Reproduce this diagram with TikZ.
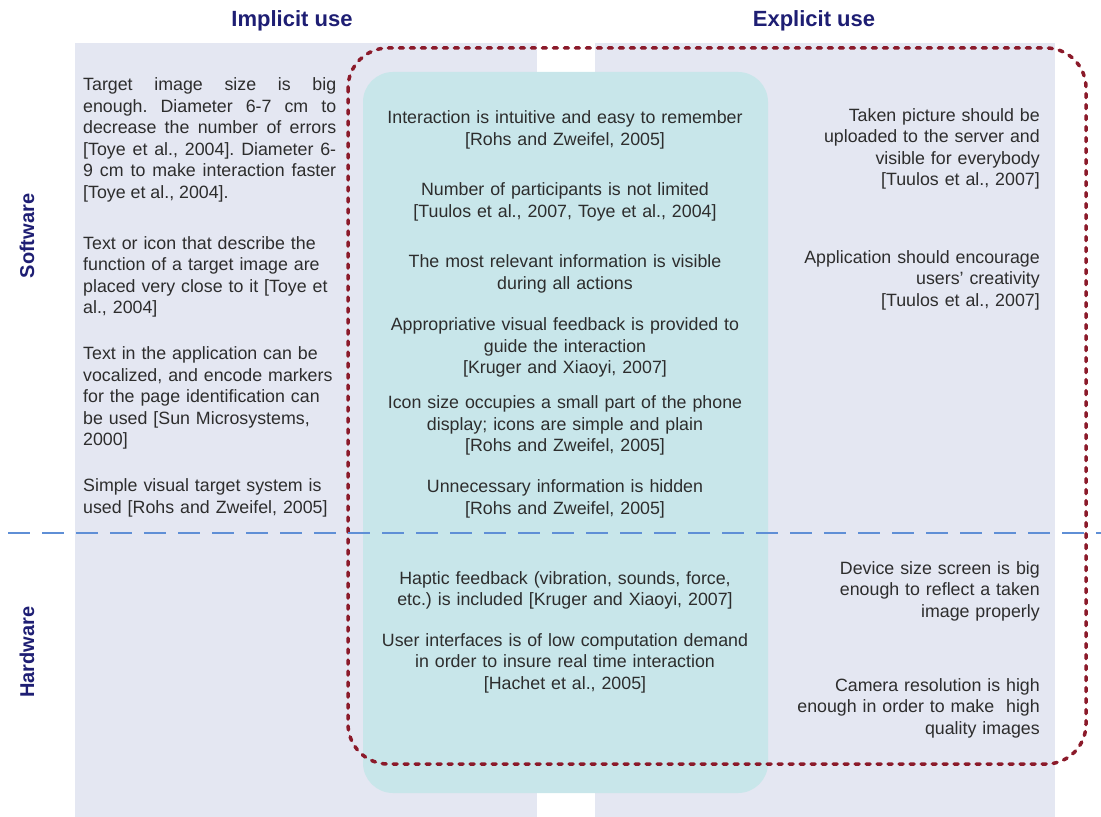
\documentclass[tikz,border=0pt]{standalone}
\usepackage{fontspec}
\setmainfont{Liberation Sans}
\definecolor{panelfill}{RGB}{228,231,242}
\definecolor{tealfill}{RGB}{200,230,234}
\definecolor{bodytext}{RGB}{45,45,45}
\definecolor{headnavy}{RGB}{30,30,115}
\definecolor{dotred}{RGB}{139,26,42}
\definecolor{splitblue}{RGB}{95,143,214}
\newcommand\bodyfont{\fontsize{17.8bp}{21.6bp}\selectfont\frenchspacing}
\newcommand\headfont{\fontsize{22bp}{26bp}\selectfont\bfseries}
\newcommand\sidefont{\fontsize{20bp}{24bp}\selectfont\bfseries}
\begin{document}
\begin{tikzpicture}[x=1bp,y=-1bp,
  panel/.style={fill=panelfill},
  core/.style={fill=tealfill,rounded corners=30bp},
  overlap/.style={draw=dotred,line width=3.5bp,line cap=round,dash pattern=on 4bp off 7bp,rounded corners=40bp},
  split/.style={draw=splitblue,line width=1.8bp,dash pattern=on 22bp off 12bp},
  head/.style={font=\headfont,text=headnavy,inner sep=0pt},
  side/.style={font=\sidefont,text=headnavy,inner sep=0pt,rotate=90},
  body/.style={font=\bodyfont,text=bodytext,inner sep=0pt},
  leftcol/.style={body,anchor=base west,text width=260bp,align=left},
  midcol/.style={body,anchor=base,text width=400bp,align=center},
  rightcol/.style={body,anchor=base east,text width=300bp,align=right}]
\useasboundingbox (0,0) rectangle (1101,817);

% column panels
\fill[panel] (75,43) rectangle (537,817);
\fill[panel] (595,43) rectangle (1055,817);
% shared area of implicit and explicit use
\fill[core] (363,72) rectangle (768,793);

% column and row titles
\node[head] (implicit) at (292,21) {Implicit use};
\node[head] (explicit) at (814,21) {Explicit use};
\node[side] (software) at (27,236) {Software};
\node[side] (hardware) at (27,652) {Hardware};

% implicit use only
\node[body,anchor=base west,text width=253bp,align=justify] (l1) at (83,90.5)
  {Target image size is big\linebreak{} enough. Diameter 6-7 cm to\linebreak{} decrease the number of errors\linebreak{} [Toye et al., 2004]. Diameter 6-\linebreak{} 9 cm to make interaction faster\linebreak{} [Toye et al., 2004].};
\node[leftcol] (l2) at (83,249)
  {Text or icon that describe the\\function of a target image are\\placed very close to it [Toye et\\al., 2004]};
\node[leftcol] (l3) at (83,359.5)
  {Text in the application can be\\vocalized, and encode markers\\for the page identification can\\be used [Sun Microsystems,\\2000]};
\node[leftcol] (l4) at (83,491.5)
  {Simple visual target system is\\used [Rohs and Zweifel, 2005]};

% both kinds of use
\node[midcol] (m1) at (565,123.5)
  {Interaction is intuitive and easy to remember\\{}[Rohs and Zweifel, 2005]};
\node[midcol] (m2) at (565,195.5)
  {Number of participants is not limited\\{}[Tuulos et al., 2007, Toye et al., 2004]};
\node[midcol] (m3) at (565,267.5)
  {The most relevant information is visible\\during all actions};
\node[midcol] (m4) at (565,330.5)
  {Appropriative visual feedback is provided to\\guide the interaction\\{}[Kruger and Xiaoyi, 2007]};
\node[midcol] (m5) at (565,408.5)
  {Icon size occupies a small part of the phone\\display; icons are simple and plain\\{}[Rohs and Zweifel, 2005]};
\node[midcol] (m6) at (565,492.5)
  {Unnecessary information is hidden\\{}[Rohs and Zweifel, 2005]};
\node[midcol] (m7) at (565,584)
  {Haptic feedback (vibration, sounds, force,\\etc.) is included [Kruger and Xiaoyi, 2007]};
\node[midcol] (m8) at (565,646)
  {User interfaces is of low computation demand\\in order to insure real time interaction\\{}[Hachet et al., 2005]};

% explicit use only
\node[rightcol] (r1) at (1040,121)
  {Taken picture should be\\uploaded to the server and\\visible for everybody\\{}[Tuulos et al., 2007]};
\node[rightcol] (r2) at (1040,263)
  {Application should encourage\\users' creativity\\{}[Tuulos et al., 2007]};
\node[rightcol] (r3) at (1040,574)
  {Device size screen is big\\enough to reflect a taken\\image properly};
\node[rightcol] (r4) at (1040,691)
  {Camera resolution is high\\enough in order to make\ \ high\\quality images};

% overlap of the two kinds of use
\draw[overlap] (348,48) rectangle (1086,764);

% software / hardware divider
\coordinate (splitL) at (8,533);
\coordinate (splitR) at (1101,533);
\draw[split] (splitL) -- (splitR);
\end{tikzpicture}
\end{document}
